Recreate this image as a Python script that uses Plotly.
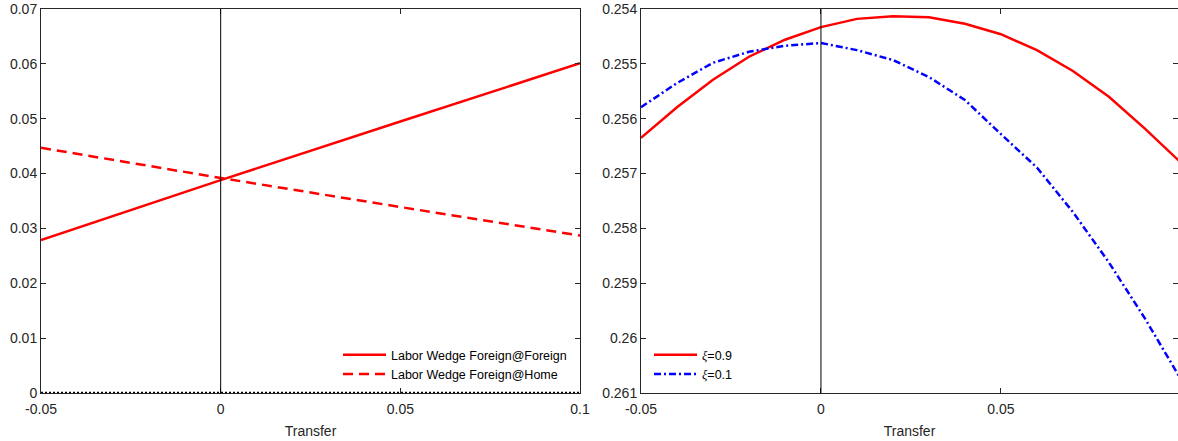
import plotly.graph_objects as go

# Left panel: labor wedges against the transfer
transfer_lin = [-0.05, 0.0, 0.05, 0.1]
wedge_foreign_at_foreign = [0.0279, 0.0388, 0.0495, 0.0601]
wedge_foreign_at_home = [0.0447, 0.0392, 0.0339, 0.0287]
zero_line = [0.0, 0.0, 0.0, 0.0]

# Right panel: outcome for two values of xi
transfer_grid = [-0.05, -0.04, -0.03, -0.02, -0.01, 0.0, 0.01, 0.02,
                 0.03, 0.04, 0.05, 0.06, 0.07, 0.08, 0.09, 0.1]
xi_09 = [0.25635, 0.25579, 0.25529, 0.25487, 0.25456, 0.25433, 0.25418, 0.25413,
         0.25415, 0.25427, 0.25446, 0.25475, 0.25513, 0.25560, 0.25618, 0.25680]
xi_01 = [0.25579, 0.25535, 0.25498, 0.25478, 0.25467, 0.25462, 0.25475, 0.25493,
         0.25524, 0.25566, 0.25628, 0.25689, 0.25770, 0.25862, 0.25964, 0.26075]

left_yticks = [0, 0.01, 0.02, 0.03, 0.04, 0.05, 0.06, 0.07]
left_xticks = [-0.05, 0, 0.05, 0.1]
right_yticks = [0.254, 0.255, 0.256, 0.257, 0.258, 0.259, 0.26, 0.261]
right_xticks = [-0.05, 0, 0.05, 0.1]

W, H = 1178, 441
AX = "#262626"
FONT = "Liberation Sans, Arial, sans-serif"

fig = go.Figure()

fig.add_trace(go.Scatter(x=transfer_lin, y=zero_line, mode="lines",
                         line=dict(color="black", width=2.5, dash="2px,2px"),
                         showlegend=False, xaxis="x", yaxis="y"))
fig.add_trace(go.Scatter(x=transfer_lin, y=wedge_foreign_at_foreign, mode="lines",
                         name="Labor Wedge Foreign@Foreign",
                         line=dict(color="#ff0000", width=2.5),
                         xaxis="x", yaxis="y", legend="legend"))
fig.add_trace(go.Scatter(x=transfer_lin, y=wedge_foreign_at_home, mode="lines",
                         name="Labor Wedge Foreign@Home",
                         line=dict(color="#ff0000", width=2.5, dash="10px,6px"),
                         xaxis="x", yaxis="y", legend="legend"))

xi_label = '<span style="font-family:Liberation Serif;font-style:italic">ξ</span>'
fig.add_trace(go.Scatter(x=transfer_grid, y=xi_09, mode="lines",
                         name=xi_label + "=0.9",
                         line=dict(color="#ff0000", width=2.5),
                         xaxis="x2", yaxis="y2", legend="legend2"))
fig.add_trace(go.Scatter(x=transfer_grid, y=xi_01, mode="lines",
                         name=xi_label + "=0.1",
                         line=dict(color="#0000ff", width=2.5, dash="7px,3px,2px,3px"),
                         xaxis="x2", yaxis="y2", legend="legend2"))

y_dom = [48 / H, 432 / H]
axis_common = dict(showline=True, linecolor=AX, linewidth=1, mirror="ticks",
                   ticks="inside", ticklen=5, tickcolor=AX, showgrid=False,
                   zeroline=False, automargin=False,
                   tickfont=dict(family=FONT, size=14, color=AX))
title_font = dict(family=FONT, size=14, color=AX)

fig.update_layout(
    width=W, height=H,
    margin=dict(l=0, r=0, t=0, b=0),
    paper_bgcolor="white", plot_bgcolor="white",
    font=dict(family=FONT, color=AX),
    xaxis=dict(axis_common, domain=[41 / W, 580 / W], range=[-0.05, 0.1],
               tickvals=left_xticks, ticktext=["-0.05", "0", "0.05", "0.1"],
               ticklabelstandoff=3,
               title=dict(text="Transfer", font=title_font, standoff=10),
               anchor="y"),
    yaxis=dict(axis_common, domain=y_dom, range=[0, 0.07],
               tickvals=left_yticks,
               ticktext=["0", "0.01", "0.02", "0.03", "0.04", "0.05", "0.06", "0.07"],
               anchor="x"),
    xaxis2=dict(axis_common, domain=[641 / W, 1.0], range=[-0.05, 0.0992],
                tickvals=right_xticks, ticktext=["-0.05", "0", "0.05", "0.1"],
                ticklabelstandoff=3,
                title=dict(text="Transfer", font=title_font, standoff=10),
                anchor="y2"),
    yaxis2=dict(axis_common, domain=y_dom, range=[0.261, 0.254],
                tickvals=right_yticks,
                ticktext=["0.254", "0.255", "0.256", "0.257", "0.258", "0.259", "0.26", "0.261"],
                anchor="x2"),
    legend=dict(x=338 / W, y=1 - 340 / H, xanchor="left", yanchor="top",
                bgcolor="rgba(0,0,0,0)", font=dict(family=FONT, size=12.5, color="black"),
                tracegroupgap=0, itemwidth=43),
    legend2=dict(x=649 / W, y=1 - 340 / H, xanchor="left", yanchor="top",
                 bgcolor="rgba(0,0,0,0)", font=dict(family=FONT, size=12.5, color="black"),
                 tracegroupgap=0, itemwidth=43),
    shapes=[
        dict(type="line", xref="x", yref="y domain", x0=0, x1=0, y0=0, y1=1,
             line=dict(color="black", width=1)),
        dict(type="line", xref="x2", yref="y2 domain", x0=0, x1=0, y0=0, y1=1,
             line=dict(color="black", width=1)),
    ],
)

fig.write_html("out.html")
